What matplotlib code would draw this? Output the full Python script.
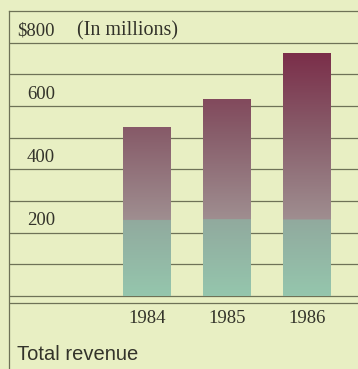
import numpy as np
import matplotlib
matplotlib.use("Agg")
from matplotlib import pyplot as plt
from matplotlib.colors import LinearSegmentedColormap

years = ["1984", "1985", "1986"]
revenue = [533, 620, 765]          # $ millions
tick_values = [200, 400, 600, 800]
tick_labels = ["200", "400", "600", "$800"]

paper = "#e8efc3"
rule = "#6e7257"
ink = "#33332a"

# colour runs bottom -> top in data units, with a soft step near 240
split = 240
top_val = 780
low_cmap = LinearSegmentedColormap.from_list("low", ["#95c6ad", "#91aa9e"])
high_cmap = LinearSegmentedColormap.from_list(
    "high", [(0, "#9f8e90"), (0.5, "#885e6b"), (1, "#7a2c48")])


def fill_colour(v):
    if v < split:
        return low_cmap(v / split)
    return high_cmap((v - split) / (top_val - split))


fig = plt.figure(figsize=(3.58, 3.69), dpi=100)
fig.patch.set_facecolor(paper)

W, H = 358, 369
left_px, top_px, base_px, step_px = 9, 11, 296, 31.66
ax = fig.add_axes([left_px / W, 0, 1 - left_px / W, 1 - top_px / H])
ax.set_facecolor(paper)

ylo = -(H - base_px) / step_px * 100
yhi = (base_px - top_px) / step_px * 100

bar_w = 0.6
xs = np.arange(len(years))

for y in range(0, 900, 100):
    ax.axhline(y, color=rule, lw=0.9, zorder=1)
ax.axhline(-22, color=rule, lw=0.9, zorder=1)

for x, v in zip(xs, revenue):
    vals = np.linspace(v, 0, 200)
    img = np.array([fill_colour(t) for t in vals])[:, None, :]
    ax.imshow(img, extent=(x - bar_w / 2, x + bar_w / 2, 0, v),
              aspect="auto", interpolation="bilinear", zorder=2)
ax.set_xlim(-(147 - left_px) / 80, (W - 147) / 80)
ax.set_ylim(ylo, yhi)

for s in ("right", "bottom"):
    ax.spines[s].set_visible(False)
for s in ("left", "top"):
    ax.spines[s].set_color(rule)
    ax.spines[s].set_linewidth(0.9)
ax.set_xticks([])
ax.set_yticks([])

serif = "Liberation Serif"
lab_x = (55 - left_px) / (W - left_px)
tr = ax.get_yaxis_transform()
for v, s in zip(tick_values, tick_labels):
    ax.text(lab_x, v + 37, s, transform=tr, ha="right", va="center",
            family=serif, fontsize=13.5, color=ink)
ax.text((77 - left_px) / (W - left_px), 837, "(In millions)", transform=tr,
        ha="left", va="center", family=serif, fontsize=14.5, color=ink)

for x, yr in zip(xs, years):
    ax.text(x, -72, yr, ha="center", va="center", family=serif,
            fontsize=13.5, color=ink)

ax.text((17 - left_px) / (W - left_px), -186, "Total revenue", transform=tr,
        ha="left", va="center", family="Liberation Sans", fontsize=14.5,
        color=ink)

fig.savefig("out.png", dpi=100, facecolor=paper)
